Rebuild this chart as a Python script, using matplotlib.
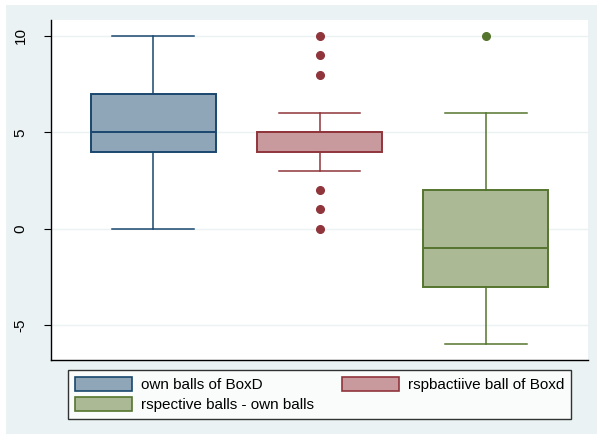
import matplotlib
matplotlib.use("Agg")
import matplotlib.pyplot as plt
from matplotlib.patches import Patch, Rectangle

plt.rcParams['font.family'] = ['Liberation Sans', 'DejaVu Sans']

# Box summaries per series
series_names = ["own balls of BoxD", "rspbactiive ball of Boxd", "rspective balls - own balls"]
medians = [5, 5, -1]
q1s = [4, 4, -3]
q3s = [7, 5, 2]
whisker_lo = [0, 3, -6]
whisker_hi = [10, 6, 6]
outliers = [[], [0, 1, 2, 8, 9, 10], [10]]

edge_colors = ["#1a476f", "#90353b", "#55752f"]
fill_colors = ["#8fa5b8", "#c89a9d", "#abba94"]
y_ticks = [-5, 0, 5, 10]

W, H = 598, 436
fig = plt.figure(figsize=(W / 100, H / 100), dpi=100, facecolor="white")
fig.patches.append(Rectangle((6 / W, 2 / H), 591 / W, 429 / H, transform=fig.transFigure,
                             facecolor="#eaf2f3", edgecolor="none", zorder=-10))

ax = fig.add_axes([51 / W, (H - 360) / H, 537 / W, 340 / H])
ax.set_facecolor("white")

stats = []
for i in range(3):
    stats.append(dict(med=medians[i], q1=q1s[i], q3=q3s[i],
                      whislo=whisker_lo[i], whishi=whisker_hi[i],
                      fliers=outliers[i], label=series_names[i]))

for i, st in enumerate(stats):
    ec, fc = edge_colors[i], fill_colors[i]
    ax.bxp([st], positions=[i + 1], widths=0.75, patch_artist=True,
           showfliers=True,
           boxprops=dict(facecolor=fc, edgecolor=ec, linewidth=1.4),
           medianprops=dict(color=ec, linewidth=1.4),
           whiskerprops=dict(color=ec, linewidth=1.1),
           capprops=dict(color=ec, linewidth=1.1),
           capwidths=0.49,
           flierprops=dict(marker="o", markerfacecolor=ec, markeredgecolor=ec,
                           markersize=5.5, linestyle="none"),
           zorder=3)

ax.set_xlim(0.386, 3.614)
ax.set_ylim(-6.81, 10.83)
ax.set_yticks(y_ticks)
ax.set_yticklabels([str(v) for v in y_ticks], rotation=90, va="center", fontsize=11)
ax.set_xticks([])
ax.yaxis.grid(True, color="#eaf2f3", linewidth=1.0, zorder=0)
ax.set_axisbelow(True)
ax.tick_params(axis="y", length=5, width=0.8, pad=12, color="black")
for s in ("top", "right"):
    ax.spines[s].set_visible(False)
for s in ("left", "bottom"):
    ax.spines[s].set_color("black")
    ax.spines[s].set_linewidth(1.0)

# legend entries arranged row by row across two columns
handles = [Patch(facecolor=fill_colors[i], edgecolor=edge_colors[i], linewidth=1.2,
                 label=series_names[i]) for i in (0, 2, 1)]
leg = fig.legend(handles=handles, ncol=2, loc="upper left",
                 bbox_to_anchor=(68 / W, (H - 370) / H, 503 / W, 0), mode="expand",
                 fontsize=11, frameon=True, fancybox=False, edgecolor="black",
                 handlelength=3.75, handleheight=1.0, handletextpad=0.55,
                 labelspacing=0.35, borderpad=0.45, borderaxespad=0)
leg.get_frame().set_linewidth(1.0)
leg.get_frame().set_facecolor("white")

fig.savefig("out.png", dpi=100, facecolor=fig.get_facecolor())
